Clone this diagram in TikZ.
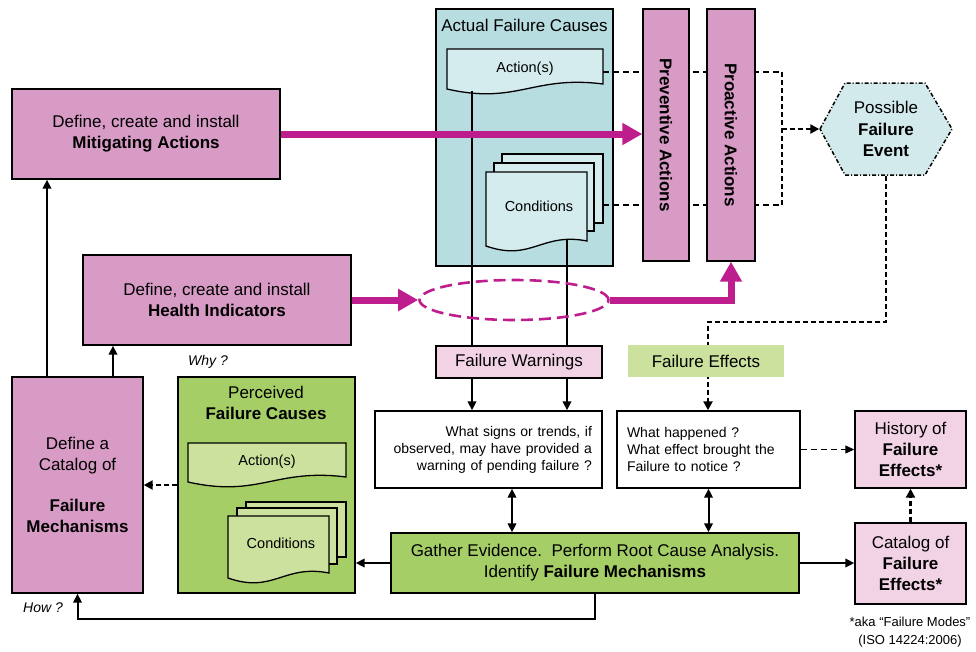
\documentclass[tikz,border=0pt]{standalone}
\usepackage{fontspec}
\setmainfont{Liberation Sans}
\usetikzlibrary{arrows.meta,shapes.geometric}

\definecolor{mauve}{HTML}{D89BC5}
\definecolor{blush}{HTML}{F2D3E6}
\definecolor{causeteal}{HTML}{B8DDE0}
\definecolor{docteal}{HTML}{D5ECEF}
\definecolor{hexteal}{HTML}{D3EAEC}
\definecolor{leaf}{HTML}{A6CE66}
\definecolor{paleleaf}{HTML}{CCE19D}
\definecolor{plum}{HTML}{BE1E8D}

\newcommand\sheet[5]{\filldraw[fill=#5,sheetline] (#1,#2) rectangle (#3,#4);}
\newcommand\wavedoc[5]{\filldraw[fill=#5,sheetline] (#1,#4) -- (#1,#2) -- (#3,#2) -- (#3,{#4-5})
  .. controls ({#1+0.55*(#3-#1)},{#4-14}) and ({#1+0.45*(#3-#1)},{#4+16}) .. (#1,#4) -- cycle;}

\begin{document}
\begin{tikzpicture}[x=1pt,y=-1pt,font=\fontsize{17}{21}\selectfont,
  box/.style={draw,line width=1.4pt,align=center,inner sep=0pt},
  task/.style={box,fill=mauve},
  record/.style={box,fill=blush},
  analysis/.style={box,fill=leaf},
  query/.style={box,fill=white,font=\fontsize{14}{17}\selectfont,inner xsep=10pt},
  doctext/.style={font=\fontsize{14.5}{17}\selectfont},
  sheetline/.style={line width=1.3pt},
  link/.style={line width=2pt,-{Triangle[length=9pt,width=8.5pt]}},
  duplex/.style={line width=2pt,{Triangle[length=9pt,width=8.5pt]}-{Triangle[length=9pt,width=8.5pt]}},
  cue/.style={line width=2.4pt,dash pattern=on 5pt off 3pt,-{Triangle[length=9pt,width=9pt]}},
  trace/.style={line width=1.1pt,dash pattern=on 6pt off 4pt},
  boost/.style={plum,line width=7pt,-{Triangle[length=20pt,width=21pt]}},
  note/.style={font=\fontsize{14}{17}\itshape\selectfont}]
\useasboundingbox (0,0) rectangle (976,651);

\node[box,fill=causeteal,minimum width=177pt,minimum height=257pt] (actual) at (524.5,137.5) {};
\node (actualttl) at (524.5,25) {Actual Failure Causes};
\wavedoc{447}{49}{603}{89}{docteal}
\node[doctext] (actdoc) at (525,69) {Action(s)};
\sheet{502}{154}{603}{223}{docteal}
\sheet{494}{163}{594}{231}{docteal}
\wavedoc{486}{172}{587}{246}{docteal}
\node[doctext] (condoc) at (539,206) {Conditions};

\coordinate (actedge) at (603,72);
\coordinate (conedge) at (603,205);
\coordinate (fork) at (782,129);
\draw[trace] (actedge) -- (actedge -| fork);
\draw[trace] (conedge) -- (conedge -| fork);
\draw[line width=2.4pt,dash pattern=on 5pt off 3pt] (actedge -| fork) -- (conedge -| fork);

\node[task,minimum width=46pt,minimum height=252pt] (prevent) at (666,135) {\rotatebox{-90}{\textbf{Preventive Actions}}};
\node[task,minimum width=48pt,minimum height=252pt] (proact) at (731,135) {\rotatebox{-90}{\textbf{Proactive Actions}}};

\filldraw[fill=hexteal,line width=1.5pt,dash pattern=on 4pt off 2pt on 1pt off 2pt]
  (886,129) ++(-66,0) -- ++(25,-46) -- ++(80,0) -- ++(27,46) -- ++(-27,46) -- ++(-80,0) -- cycle;
\node[box,draw=none,minimum width=132pt,minimum height=92pt,font=\fontsize{17}{21.5}\selectfont] (event) at (886,129) {Possible\\\textbf{Failure}\\\textbf{Event}};
\draw[cue] (fork) -- (event.west);

\node[query,align=right,text width=207pt,minimum height=77pt] (signs) at (488.5,449.5) {What signs or trends, if\\observed, may have provided a\\warning of pending failure ?};
\coordinate (actfoot) at (472,91);
\coordinate (confoot) at (567,240);
\draw[link] (actfoot) -- (actfoot |- signs.north);
\draw[link] (confoot) -- (confoot |- signs.north);
\node[record,minimum width=166pt,minimum height=32pt] (warn) at (519,362) {Failure Warnings};

\node[query,align=left,text width=163pt,minimum height=77pt] (happened) at (708.5,449.5) {What happened ?\\What effect brought the\\Failure to notice ?};
\coordinate (fxbend) at (708,322);
\draw[cue] (event.south) |- (fxbend) -- (fxbend |- happened.north);
\node[box,draw=none,fill=paleleaf,minimum width=156pt,minimum height=32pt] (effects) at (706,361) {Failure Effects};

\node[record,minimum width=111pt,minimum height=77pt] (history) at (910.5,449.5) {History of\\\textbf{Failure}\\\textbf{Effects*}};
\node[record,minimum width=111pt,minimum height=81pt] (catfx) at (910.5,563.5) {Catalog of\\\textbf{Failure}\\\textbf{Effects*}};
\node[font=\fontsize{13}{18}\selectfont,align=center] (aka) at (910,632) {*aka “Failure Modes”\\(ISO 14224:2006)};

\node[analysis,minimum width=408pt,minimum height=60pt] (gather) at (595,563) {Gather Evidence.\ \ Perform Root Cause Analysis.\\Identify \textbf{Failure Mechanisms}};

\node[analysis,minimum width=177pt,minimum height=216pt] (perceived) at (266.5,485) {};
\node[align=center] (perceivedttl) at (266,403) {Perceived\\\textbf{Failure Causes}};
\wavedoc{188}{443}{346}{482}{paleleaf}
\node[doctext] (peractdoc) at (267,462) {Action(s)};
\sheet{246}{502}{346}{557}{paleleaf}
\sheet{237}{508}{337}{564}{paleleaf}
\wavedoc{228}{516}{329}{578}{paleleaf}
\node[doctext] (percondoc) at (281,543) {Conditions};

\node[task,minimum width=131pt,minimum height=216pt] (catmech) at (77.5,485) {Define a\\Catalog of\\[20pt]\textbf{Failure}\\\textbf{Mechanisms}};
\node[task,minimum width=268pt,minimum height=90pt] (mitig) at (146,134) {Define, create and install\\\textbf{Mitigating Actions}};
\node[task,minimum width=268pt,minimum height=90pt] (health) at (217,300) {Define, create and install\\\textbf{Health Indicators}};

\node[note] (why) at (208,362) {Why ?};
\node[note] (how) at (43,608) {How ?};

\draw[link] ([xshift=-30.5pt]catmech.north) -- ([xshift=-30.5pt]catmech.north |- mitig.south);
\draw[link] ([xshift=35.5pt]catmech.north) -- ([xshift=35.5pt]catmech.north |- health.south);
\draw[cue] (perceived.west) -- (catmech.east);
\draw[link] (gather.west) -- (gather.west -| perceived.east);
\draw[link] (gather.east) -- (gather.east -| catfx.west);
\draw[link] (gather.south) -- ++(0,25) -| (catmech.south);
\draw[duplex] ([xshift=23.5pt]signs.south) -- ([xshift=23.5pt]signs.south |- gather.north);
\draw[duplex] (happened.south) -- (happened.south |- gather.north);
\draw[trace,-{Triangle[length=9pt,width=8pt]}] (happened.east) -- (history.west);
\draw[cue] (catfx.north) -- (history.south);

\node[ellipse,draw=plum,line width=2.6pt,dash pattern=on 12pt off 6pt,minimum width=189pt,minimum height=40pt] (watch) at (514,300) {};
\draw[boost] (mitig.east) -- (mitig.east -| prevent.west);
\draw[boost] (health.east) -- (health.east -| watch.west);
\draw[boost] (watch.east) -| (proact.south);
\end{tikzpicture}
\end{document}
